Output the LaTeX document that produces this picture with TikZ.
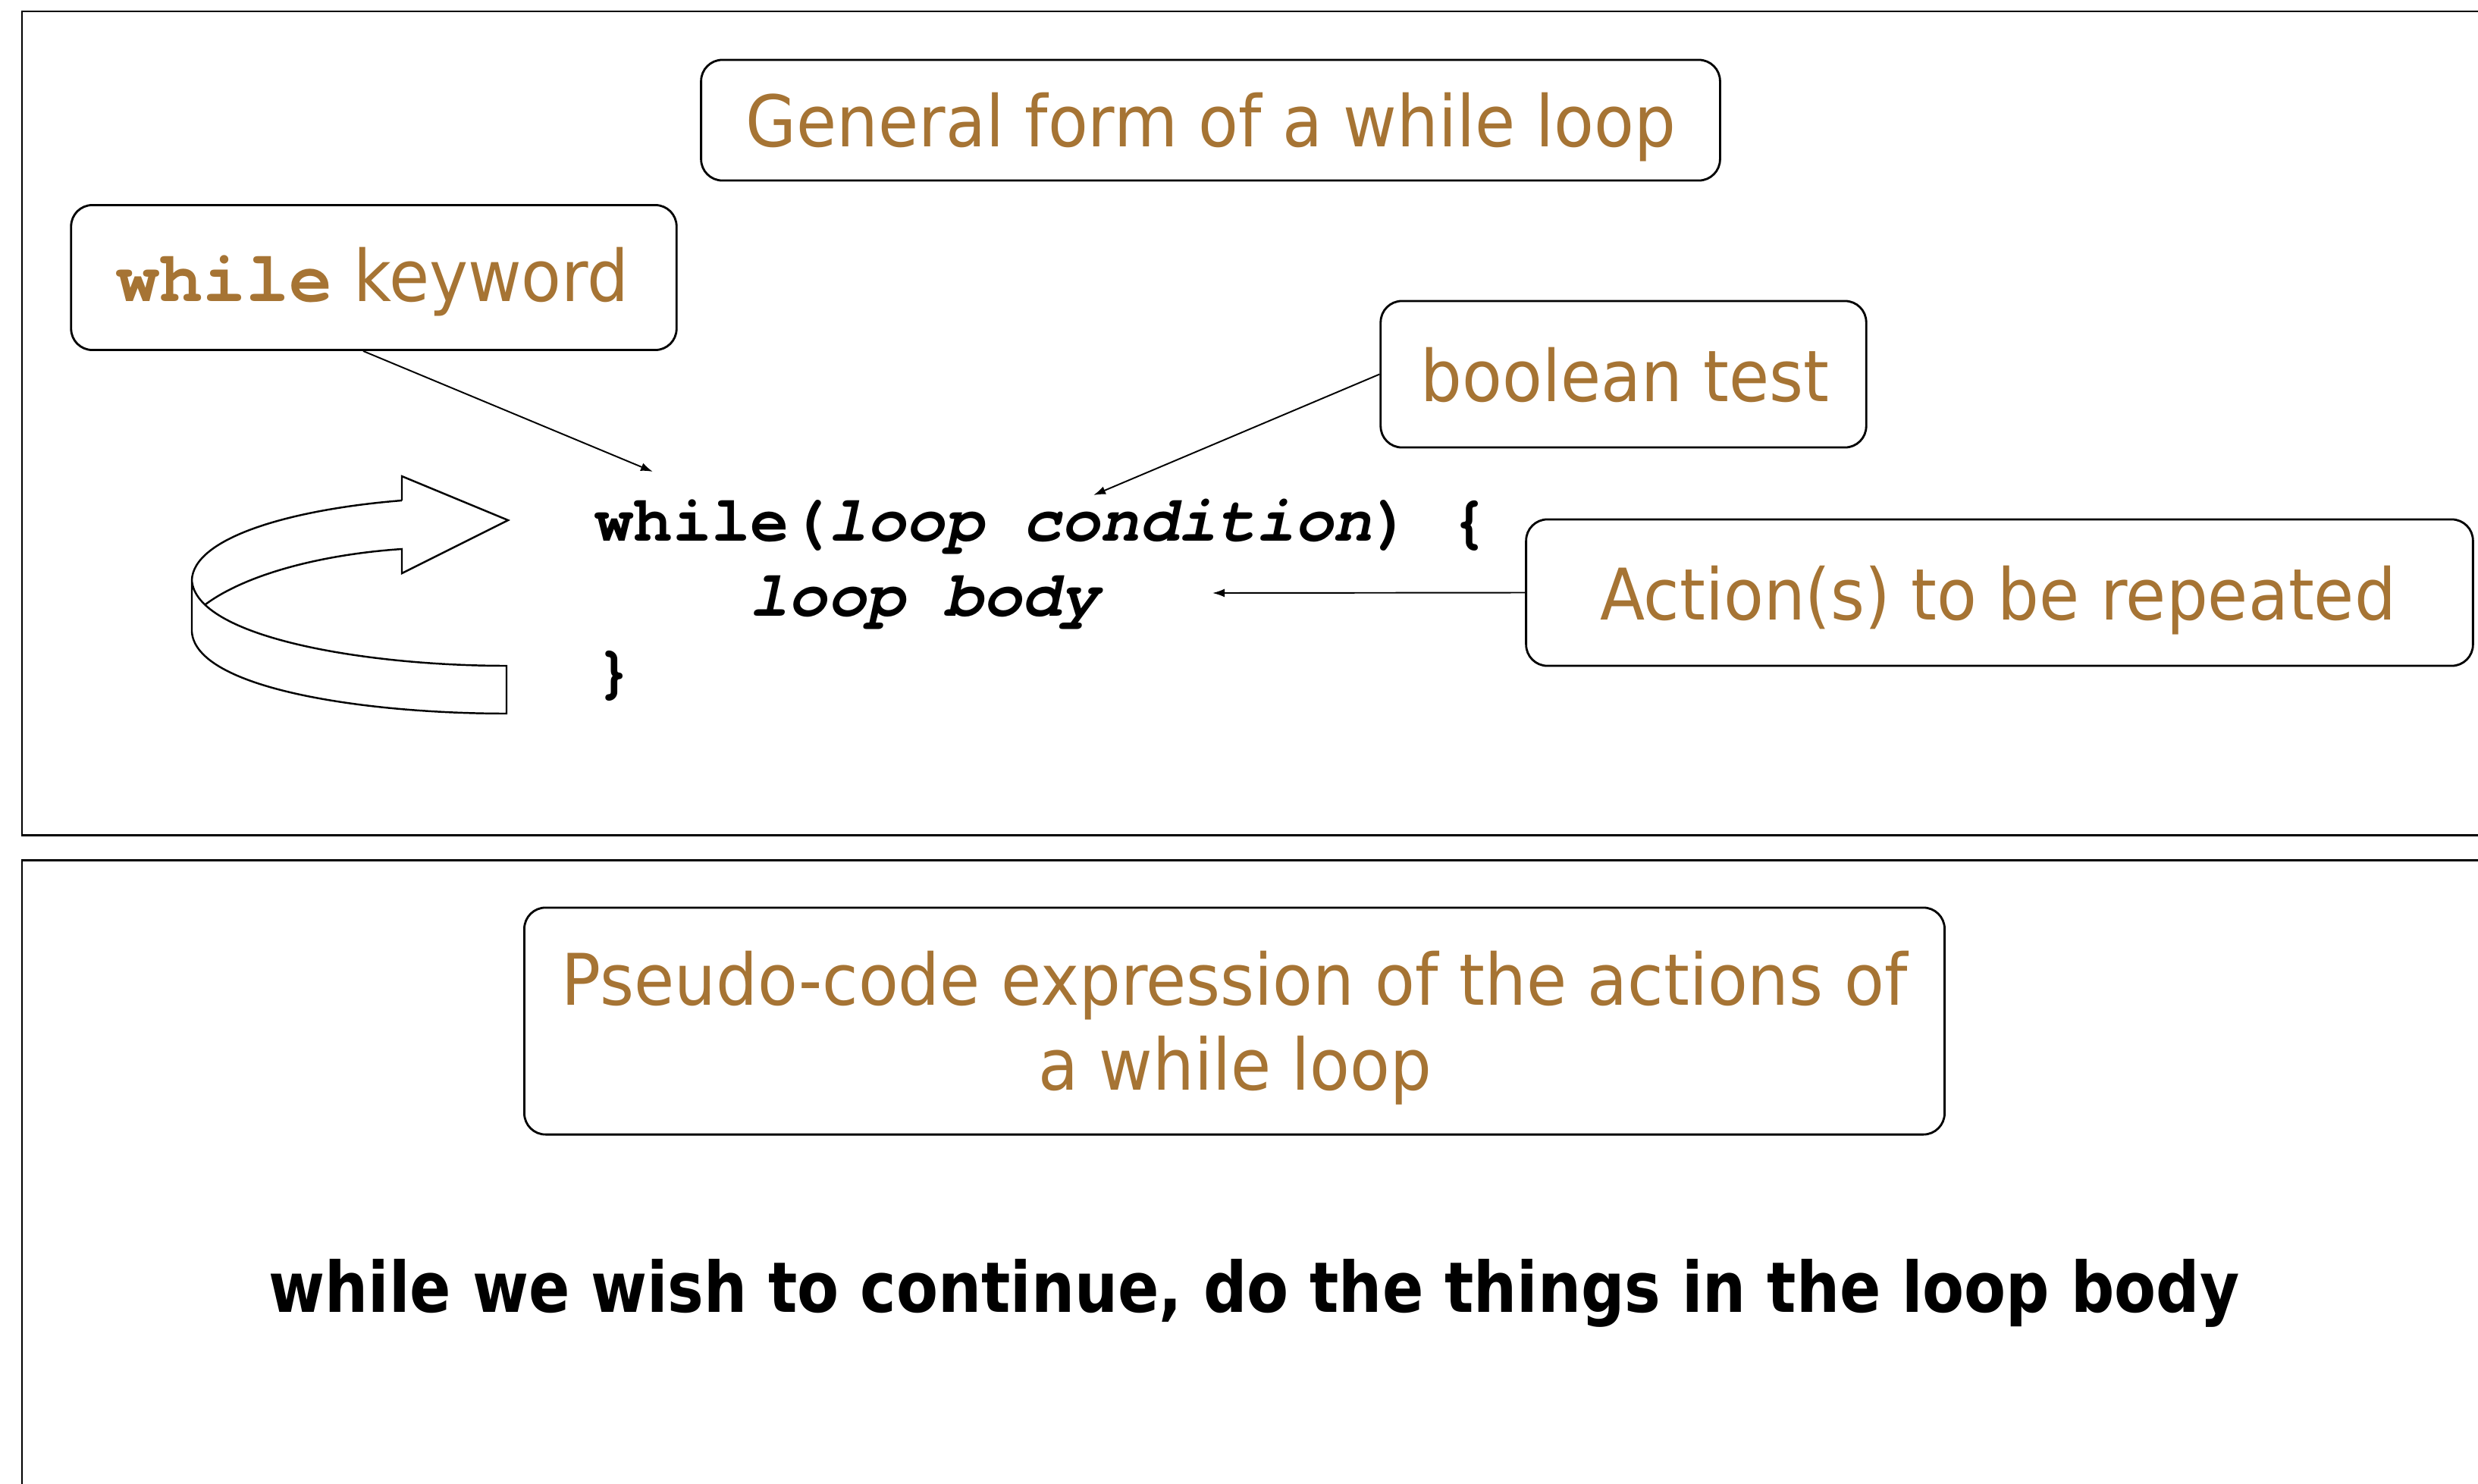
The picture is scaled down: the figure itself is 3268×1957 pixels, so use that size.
\documentclass[tikz,border=0pt]{standalone}
\usepackage{fontspec}
\usetikzlibrary{arrows.meta}
\setmainfont{DejaVu Sans}
\newfontfamily\lblfont{DejaVu Sans}[FakeStretch=0.92]
\newfontfamily\pseudofont{DejaVu Sans}[FakeStretch=0.87]
\newfontfamily\codefont{texgyrecursor}[Extension=.otf, UprightFont=*-regular,
  BoldFont=*-bold, ItalicFont=*-italic, BoldItalicFont=*-bolditalic]
\definecolor{labelbrown}{RGB}{166,116,52}

\tikzset{
  panel/.style={draw=black, line width=0.85pt},
  callout/.style={draw=black, line width=0.8pt, rounded corners=0.28cm, inner sep=0pt},
  labeltext/.style={text=labelbrown, inner sep=0pt, anchor=base,
    font=\lblfont\fontsize{26.7}{32}\selectfont},
  codetext/.style={inner sep=0pt, anchor=base west,
    font=\codefont\bfseries\fontsize{24.3}{28}\selectfont},
  pointer/.style={-{Latex[length=0.16cm,width=0.11cm]}, line width=0.55pt},
  loopband/.style={draw=black, line width=0.7pt, line join=miter}
}

\begin{document}
\begin{tikzpicture}[x=0.01cm, y=-0.01cm]
  \clip (0,0) rectangle (3268,1957);

  % two panels
  \draw[panel] (29,15) rectangle (3320,1101);
  \draw[panel] (29,1134) rectangle (3320,2010);

  % callout boxes
  \node[callout, minimum width=13.43cm, minimum height=1.59cm] (genbox) at (1596.5,158.5) {};
  \node[callout, minimum width=7.98cm, minimum height=1.91cm] (kwbox) at (493,366) {};
  \node[callout, minimum width=6.40cm, minimum height=1.93cm] (boolbox) at (2141,493.5) {};
  \node[callout, minimum width=12.48cm, minimum height=1.93cm] (actbox) at (2637,781.5) {};
  \node[callout, minimum width=18.72cm, minimum height=2.99cm] (pcbox) at (1628,1346.5) {};

  % callout texts
  \node[labeltext] (gentext) at (1597,193) {General form of a while loop};
  \node[labeltext, anchor=base west] (kwtext) at (153,397)
    {{\codefont\bfseries\fontsize{27}{32}\selectfont while} keyword};
  \node[labeltext] (booltext) at (2143,529) {boolean test};
  \node[labeltext] (acttext) at (2635,817) {Action(s) to be repeated};
  \node[labeltext] (pcline1) at (1628,1325) {Pseudo-code expression of the actions of};
  \node[labeltext] (pcline2) at (1629,1437) {a while loop};

  % code
  \node[codetext] (code1) at (784,713) {while(\textit{loop condition}) \{};
  \node[codetext] (code2) at (988,812) {\textit{loop body}};
  \node[codetext] (code3) at (784,911) {\}};

  % pointers
  \coordinate (kwtip) at (861,622);
  \coordinate (booltip) at (1442,653);
  \coordinate (acttip) at (1599,782);
  \draw[pointer] ([xshift=-0.14cm]kwbox.south) -- (kwtip);
  \draw[pointer] (boolbox.west) -- (booltip);
  \draw[pointer] (actbox.west) -- (acttip);

  % curved loop arrow
  \draw[loopband] (530,660) .. controls (380,672) and (255,710) .. (253,765)
    -- (253,833) .. controls (258,908) and (480,941) .. (668,941)
    -- (668,878) .. controls (480,878) and (258,840) .. (253,765);
  \draw[loopband] (530,660) -- (530,628) -- (670,686) -- (530,756) -- (530,724)
    .. controls (425,731) and (325,757) .. (271,797);

  % pseudo-code sentence
  \node[inner sep=0pt, anchor=base, font=\pseudofont\bfseries\fontsize{26.2}{32}\selectfont]
    (pseudo) at (1654,1730) {while we wish to continue, do the things in the loop body};
\end{tikzpicture}
\end{document}
